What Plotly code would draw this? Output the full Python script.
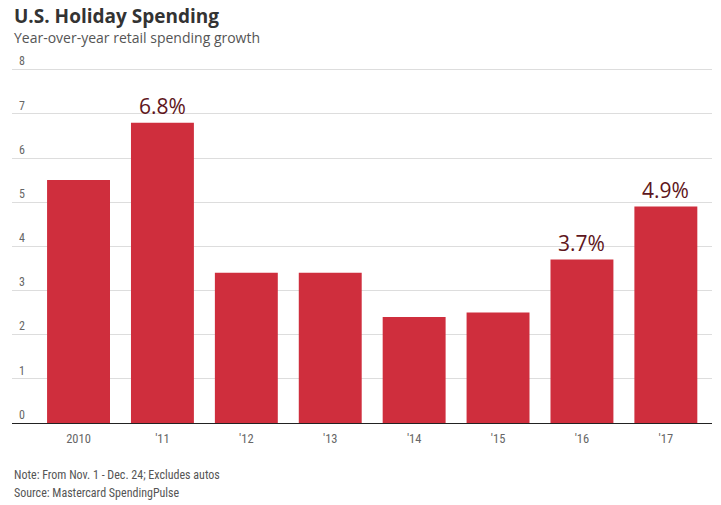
import plotly.graph_objects as go

categories = ["2010", "'11", "'12", "'13", "'14", "'15", "'16", "'17"]
growth = [5.5, 6.8, 3.4, 3.4, 2.4, 2.5, 3.7, 4.9]
labeled = {"'11": "6.8%", "'16": "3.7%", "'17": "4.9%"}
y_ticks = [0, 1, 2, 3, 4, 5, 6, 7, 8]

title = "U.S. Holiday Spending"
subtitle = "Year-over-year retail spending growth"
note = "Note: From Nov. 1 - Dec. 24; Excludes autos"
source = "Source: Mastercard SpendingPulse"

narrow = "Liberation Sans Narrow, Roboto Condensed, Arial Narrow, sans-serif"
humanist = "Open Sans, Noto Sans, sans-serif"

fig = go.Figure(go.Bar(
    x=list(range(len(categories))), y=growth,
    marker=dict(color="#cf2e3d", line=dict(width=0)),
    width=0.75, hoverinfo="skip",
))

for i, c in enumerate(categories):
    if c in labeled:
        fig.add_annotation(x=i, y=growth[i], text=labeled[c], showarrow=False,
                           yanchor="bottom", yshift=1,
                           font=dict(family=humanist, size=21, color="#5e1620"))

fig.add_annotation(xref="paper", yref="paper", x=0.0, y=1.0, yshift=36,
                   xanchor="left", yanchor="middle", showarrow=False,
                   text="<b>" + title + "</b>",
                   font=dict(family=humanist, size=19, color="#333333"))
fig.add_annotation(xref="paper", yref="paper", x=0.0, y=1.0, yshift=15,
                   xanchor="left", yanchor="middle", showarrow=False,
                   text=subtitle, font=dict(family=humanist, size=14, color="#555555"))
fig.add_annotation(xref="paper", yref="paper", x=0.0, y=0, yshift=-52,
                   xanchor="left", yanchor="middle", showarrow=False,
                   text=note, font=dict(family=narrow, size=12, color="#555555"))
fig.add_annotation(xref="paper", yref="paper", x=0.0, y=0, yshift=-70,
                   xanchor="left", yanchor="middle", showarrow=False,
                   text=source, font=dict(family=narrow, size=12, color="#555555"))

fig.update_layout(
    width=721, height=505,
    margin=dict(l=12, r=9, t=52, b=82),
    paper_bgcolor="white", plot_bgcolor="white",
    showlegend=False,
    xaxis=dict(
        range=[-0.793, 7.55],
        tickmode="array", tickvals=list(range(len(categories))), ticktext=categories,
        showgrid=False, zeroline=False,
        showline=True, linecolor="#222222", linewidth=1,
        ticks="", tickfont=dict(family=narrow, size=12.5, color="#666666"),
        ticklabelstandoff=4,
        fixedrange=True,
    ),
    yaxis=dict(
        range=[0, 8.4], tickmode="array", tickvals=y_ticks,
        showgrid=True, gridcolor="#dddddd", gridwidth=1,
        zeroline=False, showline=False, ticks="",
        ticklabelposition="inside top",
        ticklabelstandoff=4,
        tickfont=dict(family=narrow, size=12, color="#666666"),
        fixedrange=True,
    ),
)

fig.write_html("out.html", config={"displayModeBar": False},
               post_script="document.body.style.margin='0';window.dispatchEvent(new Event('resize'));")
